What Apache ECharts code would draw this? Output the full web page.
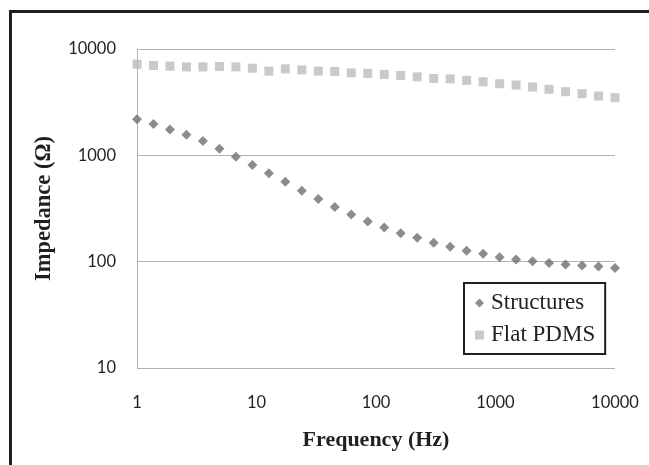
<!DOCTYPE html>
<html>
<head>
<meta charset="utf-8">
<script src="https://cdn.jsdelivr.net/npm/echarts@6/dist/echarts.min.js"></script>
<style>
html,body{margin:0;padding:0;background:#fff;}
#chart{width:649px;height:465px;}
</style>
</head>
<body>
<div id="chart"></div>
<script>
var frequencies = [1, 1.374, 1.887, 2.593, 3.562, 4.894, 6.723, 9.237, 12.69, 17.43,
  23.95, 32.90, 45.20, 62.10, 85.32, 117.2, 161.0, 221.2, 303.9, 417.5,
  573.6, 788.0, 1083, 1487, 2043, 2807, 3857, 5298, 7279, 10000];
var structures = [2184, 1974, 1750, 1559, 1361, 1153, 970, 811, 679, 563,
  464, 388, 327, 277, 238, 210, 185, 168, 151, 138,
  127, 119, 110, 105, 101, 97, 94, 92, 90, 87];
var flatPDMS = [7194, 6994, 6891, 6788, 6788, 6850, 6788, 6600, 6193, 6504,
  6362, 6193, 6150, 5970, 5893, 5765, 5640, 5468, 5286, 5243,
  5070, 4920, 4712, 4582, 4390, 4178, 3966, 3796, 3611, 3486];
var seriesNames = ['Structures', 'Flat PDMS'];
var xTitle = 'Frequency (Hz)';
var yTitle = 'Impedance (\u03A9)';

function pairs(xs, ys) { return xs.map(function (x, i) { return [x, ys[i]]; }); }
function fmt(v) { return String(Math.round(v)); }

var chart = echarts.init(document.getElementById('chart'), null, {renderer: 'canvas'});
chart.setOption({
  animation: false,
  backgroundColor: '#ffffff',
  grid: {left: 137, right: 34, top: 49, bottom: 97, containLabel: false},
  graphic: [
    {type: 'rect', shape: {x: 9, y: 10, width: 640, height: 3}, style: {fill: '#231f20'}},
    {type: 'rect', shape: {x: 9, y: 10, width: 3, height: 455}, style: {fill: '#231f20'}}
  ],
  xAxis: {
    type: 'log', logBase: 10, min: 1, max: 10000,
    name: xTitle, nameLocation: 'middle', nameGap: 61,
    nameTextStyle: {fontFamily: 'Liberation Serif', fontWeight: 'bold', fontSize: 22, color: '#231f20'},
    axisLine: {show: false},
    axisTick: {show: false},
    splitLine: {show: false},
    minorTick: {show: false},
    axisLabel: {formatter: fmt, margin: 26, fontFamily: 'Lato', fontSize: 16.5, color: '#231f20'}
  },
  yAxis: {
    type: 'log', logBase: 10, min: 10, max: 10000,
    name: yTitle, nameLocation: 'middle', nameGap: 81, nameRotate: 90,
    nameTextStyle: {fontFamily: 'Liberation Serif', fontWeight: 'bold', fontSize: 22.5, color: '#231f20'},
    axisLine: {show: true, lineStyle: {color: '#b3b3b3', width: 1}},
    axisTick: {show: false},
    splitLine: {show: true, lineStyle: {color: '#b3b3b3', width: 1}},
    axisLabel: {formatter: fmt, margin: 21, fontFamily: 'Lato', fontSize: 16.5, color: '#231f20'}
  },
  legend: {
    orient: 'vertical', left: 464, top: 283,
    padding: [7, 10, 6, 11],
    itemGap: 6,
    itemWidth: 9, itemHeight: 9,
    borderColor: '#231f20', borderWidth: 2,
    backgroundColor: '#ffffff',
    textStyle: {fontFamily: 'Liberation Serif', fontSize: 23, color: '#231f20', lineHeight: 26, padding: [0, 0, 0, 2]},
    data: [
      {name: seriesNames[0], icon: 'diamond'},
      {name: seriesNames[1], icon: 'rect'}
    ]
  },
  series: [
    {
      name: seriesNames[0], type: 'scatter', symbol: 'diamond', symbolSize: 10,
      itemStyle: {color: '#6f6f72'},
      data: pairs(frequencies, structures)
    },
    {
      name: seriesNames[1], type: 'scatter', symbol: 'rect', symbolSize: 9,
      itemStyle: {color: '#bcbcbf'},
      data: pairs(frequencies, flatPDMS)
    }
  ]
});
</script>
</body>
</html>
